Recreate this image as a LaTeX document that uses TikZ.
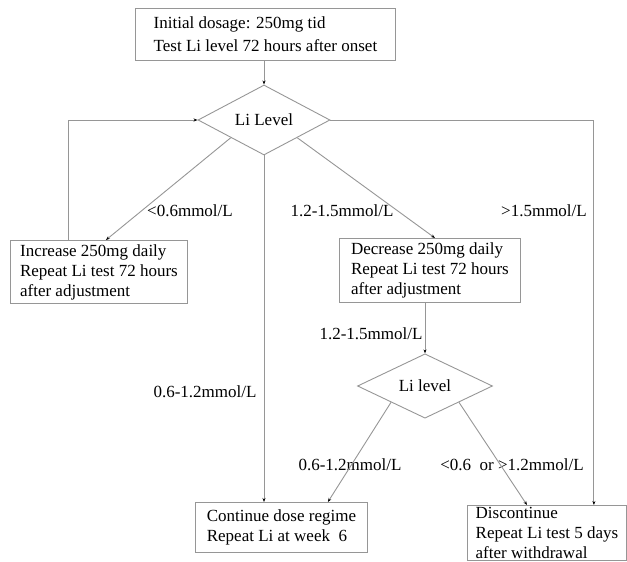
\documentclass[tikz,border=0pt]{standalone}
\usepackage{fontspec}
\setmainfont{Liberation Serif}
\usetikzlibrary{arrows.meta, shapes.geometric}
\definecolor{linegray}{RGB}{150,150,150}

\begin{document}
\begin{tikzpicture}[x=1pt, y=-1pt, >={Stealth[length=4pt, width=3pt, black]},
  every node/.style={font=\fontsize{17}{20}\selectfont},
  box/.style={draw=linegray, line width=0.9pt, align=left, inner sep=2pt, anchor=north west},
  decide/.style={diamond, draw=linegray, line width=0.9pt, inner sep=0pt},
  link/.style={->, draw=linegray, line width=0.9pt}]
  \useasboundingbox (0,0) rectangle (627,562);

  % Start
  \node[box, minimum width=260pt, minimum height=52pt] (init) at (135,8)
    {Initial dosage: 250mg tid\\[3pt]Test Li level 72 hours after onset};

  % First check
  \node[decide, minimum width=132pt, minimum height=56pt] (lvlA) at (264,120) {Li Level};

  % Adjustments
  \node[box, minimum width=177pt, minimum height=63pt] (inc) at (10,240)
    {Increase 250mg daily\\Repeat Li test 72 hours\\after adjustment};
  \node[box, minimum width=181pt, minimum height=64pt] (dec) at (339,238)
    {Decrease 250mg daily\\Repeat Li test 72 hours\\after adjustment};

  % Second check
  \node[decide, minimum width=135pt, minimum height=57pt] (lvlB) at (425,386) {Li level};

  % Outcomes
  \node[box, minimum width=172pt, minimum height=50pt] (cont) at (195,502)
    {Continue dose regime\\Repeat Li at week\ \ 6};
  \node[box, minimum width=159pt, minimum height=55pt] (disc) at (467,505)
    {Discontinue\\Repeat Li test 5 days\\after withdrawal};

  % Labels
  \node (lblLow) at (190,211) {<0.6mmol/L};
  \node (lblHigh) at (342,211) {1.2-1.5mmol/L};
  \node (lblTox) at (544,211) {>1.5mmol/L};
  \node (lblOk) at (205,392) {0.6-1.2mmol/L};
  \node (lblStill) at (371,334) {1.2-1.5mmol/L};
  \node (lblOkB) at (350,465) {0.6-1.2mmol/L};
  \node (lblOut) at (512,465) {<0.6\ \ or >1.2mmol/L};

  % Connectors
  \draw[link] (lvlA.north |- init.south) -- (lvlA.north);
  \draw[link] (lvlA.south west) -- ([xshift=7pt]inc.north);
  \draw[link] (lvlA.south east) -- ([xshift=5pt]dec.north);
  \draw[link] (lvlA.south) -- (lvlA.south |- cont.north);
  \draw[link] (lvlA.east) -| ([xshift=-33pt]disc.north east);
  \draw[link] ([xshift=58pt]inc.north west) |- (lvlA.west);
  \draw[link] (lvlB.north |- dec.south) -- (lvlB.north);
  \draw[link] (lvlB.south west) -- ([xshift=-40pt]cont.north east);
  \draw[link] (lvlB.south east) -- ([xshift=60pt]disc.north west);
\end{tikzpicture}
\end{document}
